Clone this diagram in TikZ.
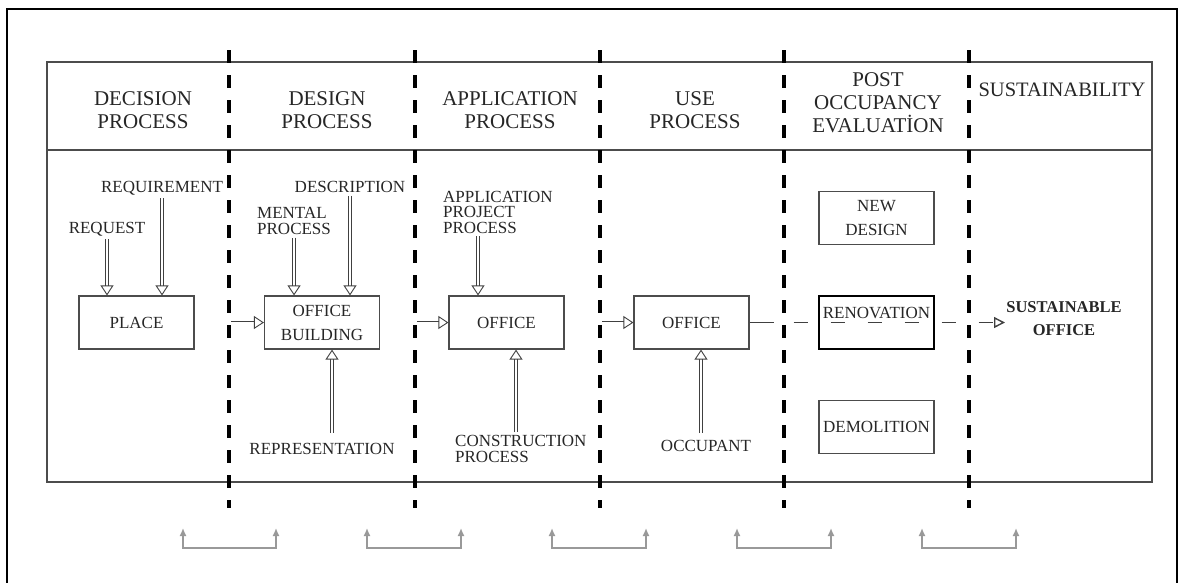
\documentclass[tikz,border=0pt]{standalone}
\usepackage{fontspec}
\setmainfont{Liberation Serif}
\usetikzlibrary{arrows.meta}

\tikzset{
  head/.style={font=\fontsize{21}{23}\selectfont, align=center, text=black!85},
  lbl/.style={font=\fontsize{17}{15.5}\selectfont, align=left, inner sep=3pt, text=black!85},
  box/.style={draw=black!70, line width=1.2pt, minimum width=115pt, minimum height=53pt, font=\fontsize{17}{24}\selectfont, align=center, text=black!85},
  divider/.style={line width=4pt, dash pattern=on 13pt off 12pt},
  feed/.style={draw=black!75, double, double distance=2pt, line width=0.9pt, -{Triangle[open, length=10pt, width=13pt]}},
  back/.style={draw=black!40, line width=1.5pt, {Latex[length=8pt,width=7pt]}-{Latex[length=8pt,width=7pt]}}
}

\begin{document}
\begin{tikzpicture}[x=1pt, y=-1pt]
  \useasboundingbox (0,0) rectangle (1180,582);

  \draw[line width=2.5pt] (7,583) -- (7,9) -- (1177,9) -- (1177,583);

  % table
  \draw[black!70, line width=1.2pt] (47,62) rectangle (1152,482);
  \draw[black!70, line width=1.2pt] (47,150) -- (1152,150);

  % phase borders
  \draw[divider] (229,50) -- (229,508);
  \draw[divider] (415,50) -- (415,508);
  \draw[divider] (600,50) -- (600,508);
  \draw[divider] (784,50) -- (784,508);
  \draw[divider] (969,50) -- (969,508);

  \node[head] (decision) at (143,110) {DECISION\\PROCESS};
  \node[head] (design) at (327,110) {DESIGN\\PROCESS};
  \node[head] (application) at (510,110) {APPLICATION\\PROCESS};
  \node[head] (use) at (695,110) {USE\\PROCESS};
  \node[head] (poe) at (878,103) {POST\\OCCUPANCY\\EVALUATİON};
  \node[head, font=\fontsize{20.5}{23}\selectfont] (sustainability) at (1062,90) {SUSTAINABILITY};

  % boxes
  \node[box] (place) at (136.5,322.5) {PLACE};
  \node[box] (building) at (322,322.5) {OFFICE\\BUILDING};
  \node[box] (office) at (506.5,322.5) {OFFICE};
  \node[box] (officeuse) at (691.5,322.5) {OFFICE};
  \node[box] (newdesign) at (876.5,218) {NEW\\DESIGN};
  \node[box, draw=black, line width=2.5pt, text depth=20pt] (renovation) at (876.5,322.5) {RENOVATION};
  \node[box] (demolition) at (876.5,427) {DEMOLITION};
  \node[font=\fontsize{16.5}{23}\selectfont\bfseries, align=center, text=black!85] (sustoffice) at (1064,319) {SUSTAINABLE\\OFFICE};

  % inputs
  \node[lbl] (request) at (107,229) {REQUEST};
  \node[lbl] (requirement) at (162,188) {REQUIREMENT};
  \node[lbl, anchor=west] (mental) at (254,221) {MENTAL\\PROCESS};
  \node[lbl] (description) at (350,187) {DESCRIPTION};
  \node[lbl] (representation) at (322,449) {REPRESENTATION};
  \node[lbl, anchor=west] (appproject) at (440,212) {APPLICATION\\PROJECT\\PROCESS};
  \node[lbl, anchor=west] (construction) at (452,449) {CONSTRUCTION\\PROCESS};
  \node[lbl] (occupant) at (706,446) {OCCUPANT};

  \draw[feed] (request.south) -- (request.south |- place.north);
  \draw[feed] (requirement.south) -- (requirement.south |- place.north);
  \draw[feed] (mental.south) -- (mental.south |- building.north);
  \draw[feed] (description.south) -- (description.south |- building.north);
  \coordinate (reptop) at ([xshift=10pt, yshift=7pt]representation.north);
  \draw[feed] (reptop) -- (reptop |- building.south);
  \coordinate (appbot) at ([xshift=38pt]appproject.south west);
  \draw[feed] (appbot) -- (appbot |- office.north);
  \coordinate (contop) at ([xshift=64pt]construction.north west);
  \draw[feed] (contop) -- (contop |- office.south);
  \coordinate (occtop) at ([xshift=-5pt, yshift=4pt]occupant.north);
  \draw[feed] (occtop) -- (occtop |- officeuse.south);

  % hand over at the borders
  \coordinate (g1) at (231,322.5);
  \coordinate (g2) at (417,322.5);
  \coordinate (g3) at (602,322.5);
  \draw[feed] (g1) -- (building.west);
  \draw[feed] (g2) -- (office.west);
  \draw[feed] (g3) -- (officeuse.west);

  \coordinate (sustend) at (1005,322.5);
  \draw[black!75, line width=1.4pt, dash pattern=on 24pt off 20pt on 14pt off 23pt on 14pt off 23pt on 14pt off 23pt on 14pt off 23pt on 14pt off 23pt on 14pt off 23pt on 14pt off 30pt, -{Triangle[open, length=11pt, width=11pt]}] (officeuse.east) -- (sustend);

  % feedback
  \coordinate (b1l) at (183,528); \coordinate (b1r) at (276,528);
  \coordinate (b2l) at (367,528); \coordinate (b2r) at (461,528);
  \coordinate (b3l) at (552,528); \coordinate (b3r) at (646,528);
  \coordinate (b4l) at (737,528); \coordinate (b4r) at (831,528);
  \coordinate (b5l) at (922,528); \coordinate (b5r) at (1016,528);
  \draw[back] (b1l) -- ++(0,20) -| (b1r);
  \draw[back] (b2l) -- ++(0,20) -| (b2r);
  \draw[back] (b3l) -- ++(0,20) -| (b3r);
  \draw[back] (b4l) -- ++(0,20) -| (b4r);
  \draw[back] (b5l) -- ++(0,20) -| (b5r);
\end{tikzpicture}
\end{document}
